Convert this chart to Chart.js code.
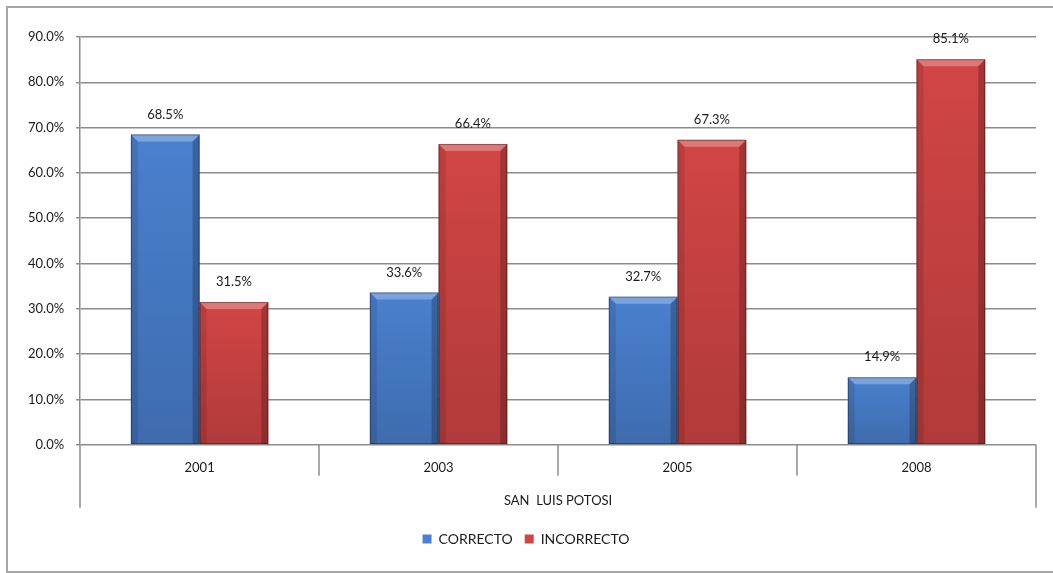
<!DOCTYPE html>
<html>
<head>
<meta charset="utf-8">
<script src="https://cdn.jsdelivr.net/npm/chart.js@4"></script>
<style>
  html, body { margin: 0; padding: 0; background: #fff; }
  #wrap { width: 1053px; height: 573px; }
</style>
</head>
<body>
<div id="wrap"><canvas id="myChart" width="1053" height="573"></canvas></div>
<script>
// values
const years = ["2001", "2003", "2005", "2008"];
const correcto = [68.5, 33.6, 32.7, 14.9];
const incorrecto = [31.5, 66.4, 67.3, 85.1];
const groupTitle = "SAN  LUIS POTOSI";

const FONT = "Lato";
const GRID = "#8c8c8c";

// outer frame of the chart object
const framePlugin = {
  id: "frame",
  beforeDraw(chart) {
    const ctx = chart.ctx;
    ctx.save();
    ctx.fillStyle = "#fff";
    ctx.fillRect(0, 0, chart.width, chart.height);
    ctx.strokeStyle = "#a6a6a6";
    ctx.lineWidth = 2;
    ctx.strokeRect(7, 7, chart.width + 10, chart.height - 8);
    ctx.restore();
  }
};

// bevel look on the bars + value labels
const barPlugin = {
  id: "bars",
  afterDatasetsDraw(chart) {
    const ctx = chart.ctx;
    ctx.save();
    chart.data.datasets.forEach((ds, di) => {
      const meta = chart.getDatasetMeta(di);
      meta.data.forEach((bar, i) => {
        const l = bar.x - bar.width / 2, r = bar.x + bar.width / 2;
        const t = bar.y, b = bar.base;
        const d = Math.min(7, (b - t) / 2);
        // darker towards the bottom
        const g = ctx.createLinearGradient(0, t, 0, b);
        g.addColorStop(0, "rgba(0,0,0,0)");
        g.addColorStop(1, "rgba(0,0,0,0.16)");
        ctx.fillStyle = g;
        ctx.fillRect(l, t, r - l, b - t);
        // left shade
        ctx.fillStyle = "rgba(0,0,0,0.10)";
        ctx.beginPath();
        ctx.moveTo(l, t); ctx.lineTo(l + d, t + d); ctx.lineTo(l + d, b); ctx.lineTo(l, b);
        ctx.fill();
        // right shade
        ctx.fillStyle = "rgba(0,0,0,0.22)";
        ctx.beginPath();
        ctx.moveTo(r, t); ctx.lineTo(r - d, t + d); ctx.lineTo(r - d, b); ctx.lineTo(r, b);
        ctx.fill();
        // top bevel
        ctx.fillStyle = "rgba(255,255,255,0.28)";
        ctx.beginPath();
        ctx.moveTo(l, t); ctx.lineTo(r, t); ctx.lineTo(r - d, t + d); ctx.lineTo(l + d, t + d);
        ctx.fill();
        ctx.strokeStyle = "rgba(0,0,0,0.35)";
        ctx.lineWidth = 1;
        ctx.strokeRect(l + 0.5, t + 0.5, r - l - 1, b - t - 1);

        ctx.fillStyle = "#1a1a1a";
        ctx.font = "13px " + FONT;
        ctx.textAlign = "center";
        ctx.textBaseline = "middle";
        ctx.fillText(ds.data[i].toFixed(1) + "%", bar.x, t - 20);
      });
    });
    ctx.restore();
  }
};

// category separators under the axis, outer ones longer
const axisPlugin = {
  id: "axisLines",
  afterDraw(chart) {
    const x = chart.scales.x, ctx = chart.ctx;
    const step = (x.right - x.left) / years.length;
    const y0 = chart.chartArea.bottom;
    ctx.save();
    ctx.strokeStyle = GRID;
    ctx.lineWidth = 1.5;
    for (let i = 0; i <= years.length; i++) {
      const px = Math.round(x.left + i * step);
      const len = (i === 0 || i === years.length) ? 63 : 31;
      ctx.beginPath();
      ctx.moveTo(px, y0);
      ctx.lineTo(px, y0 + len);
      ctx.stroke();
    }
    ctx.restore();
  }
};

new Chart(document.getElementById("myChart"), {
  type: "bar",
  data: {
    labels: years,
    datasets: [
      { label: "CORRECTO", data: correcto, backgroundColor: "#4a80cf", borderWidth: 0 },
      { label: "INCORRECTO", data: incorrecto, backgroundColor: "#d24545", borderWidth: 0 }
    ]
  },
  options: {
    responsive: false,
    animation: false,
    layout: { padding: { left: 16, right: 17, top: 37, bottom: 17 } },
    datasets: { bar: { categoryPercentage: 0.575, barPercentage: 1 } },
    plugins: {
      tooltip: { enabled: false },
      legend: {
        position: "bottom",
        labels: {
          boxWidth: 9, boxHeight: 9, color: "#1a1a1a",
          font: { family: FONT, size: 14 }, padding: 12
        }
      }
    },
    scales: {
      x: {
        grid: { display: false },
        border: { display: false },
        ticks: { color: "#1a1a1a", font: { family: FONT, size: 13 }, padding: 7 },
        title: {
          display: true, text: groupTitle, color: "#1a1a1a",
          font: { family: FONT, size: 13 }, padding: { top: 11, bottom: 11 }
        }
      },
      y: {
        min: 0, max: 90,
        ticks: {
          stepSize: 10, color: "#1a1a1a", padding: 12,
          font: { family: FONT, size: 13 },
          callback: v => v.toFixed(1) + "%"
        },
        grid: { color: GRID, lineWidth: 1.5, tickLength: 4 },
        border: { display: true, color: GRID, width: 1.5 }
      }
    }
  },
  plugins: [framePlugin, barPlugin, axisPlugin]
});
</script>
</body>
</html>
